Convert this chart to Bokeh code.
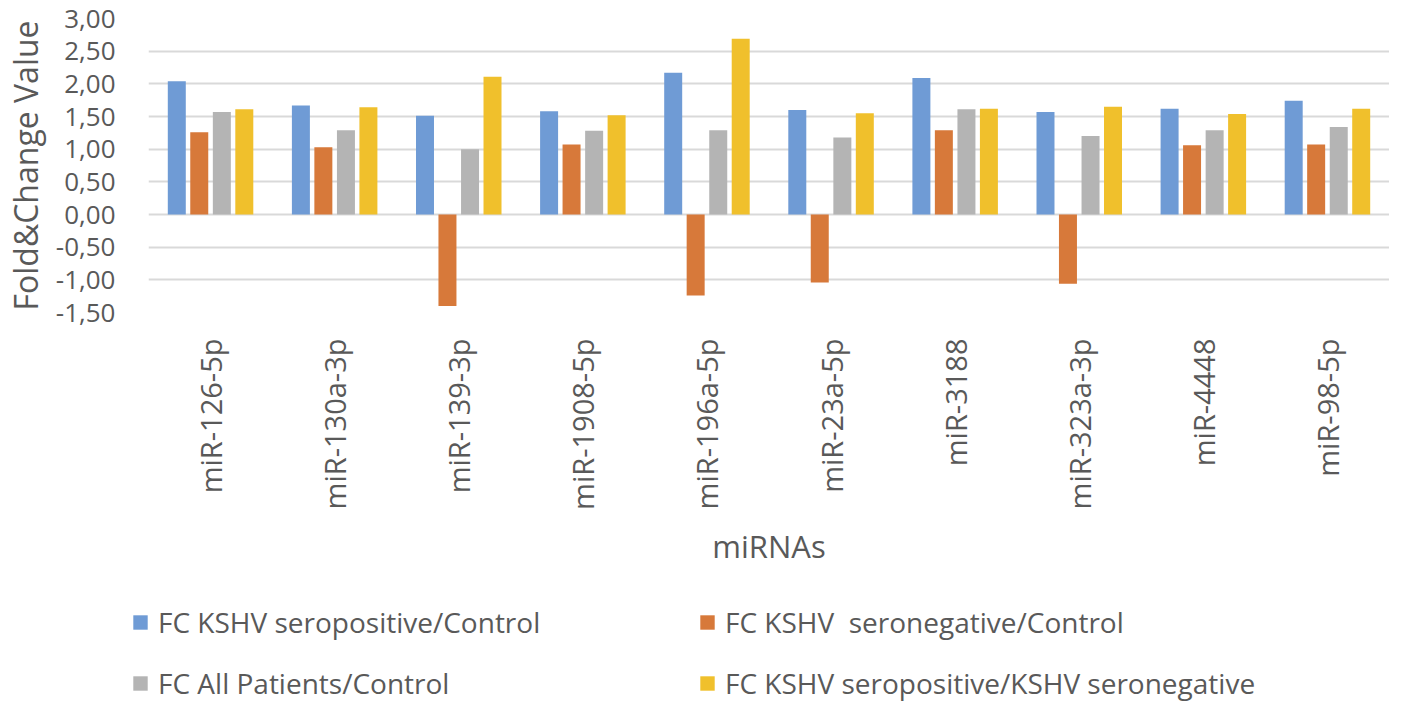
from math import pi
from bokeh.plotting import figure
from bokeh.layouts import column
from bokeh.models import (FactorRange, Range1d, CustomJSTickFormatter, Legend, LegendItem,
                          ColumnDataSource, FixedTicker)
from bokeh.transform import dodge
from bokeh.embed import file_html
from bokeh.resources import INLINE

mirnas = ["miR-126-5p", "miR-130a-3p", "miR-139-3p", "miR-1908-5p", "miR-196a-5p",
          "miR-23a-5p", "miR-3188", "miR-323a-3p", "miR-4448", "miR-98-5p"]
fc_pos_ctrl = [2.04, 1.67, 1.51, 1.58, 2.17, 1.60, 2.09, 1.57, 1.62, 1.74]
fc_neg_ctrl = [1.26, 1.03, -1.40, 1.07, -1.24, -1.04, 1.29, -1.06, 1.06, 1.07]
fc_all_ctrl = [1.57, 1.29, 1.00, 1.28, 1.29, 1.18, 1.61, 1.20, 1.29, 1.34]
fc_pos_neg = [1.61, 1.64, 2.11, 1.52, 2.69, 1.55, 1.62, 1.65, 1.54, 1.62]
series_names = ["FC KSHV seropositive/Control", "FC KSHV  seronegative/Control",
                "FC All Patients/Control", "FC KSHV seropositive/KSHV seronegative"]
y_ticks = [-1.5, -1.0, -0.5, 0.0, 0.5, 1.0, 1.5, 2.0, 2.5, 3.0]

colors = ["#6F9BD5", "#D7793A", "#B4B4B4", "#F0C02C"]
offsets = [-0.272, -0.091, 0.091, 0.272]
keys = ["s0", "s1", "s2", "s3"]
FONT = "Open Sans"
TXT = "#595959"

MAIN_H = 575
LEG_H = 703 - MAIN_H

source = ColumnDataSource(data=dict(mirna=mirnas, s0=fc_pos_ctrl, s1=fc_neg_ctrl,
                                    s2=fc_all_ctrl, s3=fc_pos_neg))

p = figure(x_range=FactorRange(factors=mirnas), y_range=Range1d(-1.5, 3.0),
           width=1389, height=MAIN_H, output_backend="svg", toolbar_location=None,
           min_border_left=139, min_border_right=0, min_border_top=18,
           min_border_bottom=MAIN_H - 312)
p.frame_align = False
p.outline_line_color = None
p.background_fill_color = "white"

p.xgrid.grid_line_color = None
p.ygrid.ticker = FixedTicker(ticks=y_ticks)
p.ygrid.grid_line_color = "#D9D9D9"
p.ygrid.grid_line_width = 2

for i, key in enumerate(keys):
    p.vbar(x=dodge("mirna", offsets[i], range=p.x_range), top=key, bottom=0,
           width=0.145, source=source, fill_color=colors[i], line_color=None)

# y axis
p.yaxis.ticker = FixedTicker(ticks=y_ticks)
p.yaxis.formatter = CustomJSTickFormatter(code="return tick.toFixed(2).replace('.', ',');")
p.yaxis.axis_line_color = None
p.yaxis.major_tick_line_color = None
p.yaxis.minor_tick_line_color = None
p.yaxis.major_label_text_font = FONT
p.yaxis.major_label_text_font_size = "26px"
p.yaxis.major_label_text_color = TXT
p.yaxis.major_label_standoff = 27
p.yaxis.axis_label = "Fold&Change Value"
p.yaxis.axis_label_text_font = FONT
p.yaxis.axis_label_text_font_size = "32px"
p.yaxis.axis_label_text_font_style = "normal"
p.yaxis.axis_label_text_color = TXT
p.yaxis.axis_label_standoff = 6

# x axis
p.xaxis.axis_line_color = None
p.xaxis.major_tick_line_color = None
p.xaxis.minor_tick_line_color = None
p.xaxis.major_label_orientation = pi / 2
p.xaxis.major_label_text_font = FONT
p.xaxis.major_label_text_font_size = "29px"
p.xaxis.major_label_text_color = TXT
p.xaxis.major_label_standoff = 20
p.xaxis.axis_label = "miRNAs"
p.xaxis.axis_label_text_font = FONT
p.xaxis.axis_label_text_font_size = "31px"
p.xaxis.axis_label_text_font_style = "normal"
p.xaxis.axis_label_text_color = TXT
p.xaxis.axis_label_standoff = 12

# legend in its own strip below the chart: same series drawn far outside the view,
# so only their legend swatches show
lg = figure(width=1389, height=LEG_H, x_range=p.x_range, y_range=Range1d(100, 101),
            output_backend="svg", toolbar_location=None,
            x_axis_location=None, y_axis_location=None,
            min_border=0, min_border_left=0, min_border_right=0,
            min_border_top=0, min_border_bottom=0)
lg.frame_align = False
lg.outline_line_color = None
lg.grid.visible = False
leg_renderers = [lg.vbar(x=dodge("mirna", offsets[i], range=lg.x_range), top=keys[i],
                         bottom=0, width=0.145, source=source,
                         fill_color=colors[i], line_color=None)
                 for i in range(4)]
items = [LegendItem(label=series_names[i], renderers=[leg_renderers[i]]) for i in range(4)]
legend = Legend(items=items, ncols=2, orientation="horizontal", location=(131, 1),
                border_line_color=None, background_fill_alpha=0,
                glyph_width=18, glyph_height=18, label_standoff=9,
                label_text_font=FONT, label_text_font_size="28px", label_text_color=TXT,
                label_width=517, spacing=23, padding=0, margin=0)
lg.add_layout(legend, "center")

layout = column(p, lg, spacing=0)
open("out.html", "w").write(file_html(layout, INLINE))
